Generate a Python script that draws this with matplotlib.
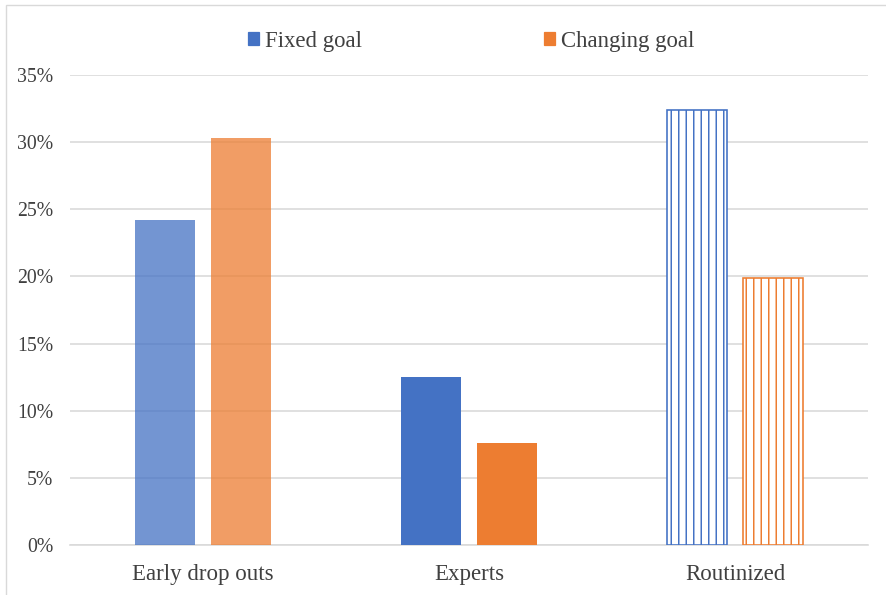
import matplotlib
matplotlib.use("Agg")
import matplotlib.pyplot as plt
from matplotlib.patches import Rectangle, Patch
import numpy as np

categories = ["Early drop outs", "Experts", "Routinized"]
fixed_goal = [0.242, 0.125, 0.324]
changing_goal = [0.303, 0.076, 0.199]
series_names = ["Fixed goal", "Changing goal"]
yticks = [0, 0.05, 0.10, 0.15, 0.20, 0.25, 0.30, 0.35]
ytick_labels = ["0%", "5%", "10%", "15%", "20%", "25%", "30%", "35%"]

BLUE = "#4472C4"
ORANGE = "#ED7D31"
plt.rcParams["font.family"] = ["Liberation Serif", "DejaVu Serif"]
plt.rcParams["hatch.linewidth"] = 1.2

DPI = 90
W, H = 886, 595
fig = plt.figure(figsize=(W / DPI, H / DPI), dpi=DPI)
ax = fig.add_axes([70 / W, 1 - 545 / H, (868 - 70) / W, (545 - 75) / H])

# frame around chart area
fig.patches.append(Rectangle((6 / W, -0.1), 1.1, 1 - 5 / H + 0.1, transform=fig.transFigure,
                             fill=False, edgecolor="#D9D9D9", linewidth=1.1, zorder=0))

x = np.arange(len(categories))
bw = 60 / 266
off = 37.75 / 266

styles = [
    dict(alpha=0.75, hatch=None, fill=True),
    dict(alpha=1.0, hatch=None, fill=True),
    dict(alpha=1.0, hatch="||", fill=False),
]
for i in range(len(categories)):
    for val, col, sgn in ((fixed_goal[i], BLUE, -1), (changing_goal[i], ORANGE, 1)):
        st = styles[i]
        if st["fill"]:
            ax.bar(x[i] + sgn * off, val, width=bw, color=col, alpha=st["alpha"],
                   edgecolor="none", zorder=3)
        else:
            ax.bar(x[i] + sgn * off, val, width=bw, facecolor="white", edgecolor=col,
                   hatch=st["hatch"], linewidth=1.3, zorder=3)

ax.set_xlim(-0.5, 2.5)
ax.set_ylim(0, 0.35)
ax.set_yticks(yticks)
ax.set_yticklabels(ytick_labels)
ax.set_xticks(x)
ax.set_xticklabels(categories)
ax.grid(axis="y", color="#D9D9D9", linewidth=1.3, zorder=0)
for s in ["top", "right", "left"]:
    ax.spines[s].set_visible(False)
ax.spines["bottom"].set_color("#D9D9D9")
ax.spines["bottom"].set_linewidth(1.3)
ax.tick_params(axis="both", length=0, colors="#404040")
ax.tick_params(axis="y", pad=13.2, labelsize=15.8)
ax.tick_params(axis="x", pad=15, labelsize=18.3)
ax.set_axisbelow(True)

handles = [Patch(color=BLUE), Patch(color=ORANGE)]
fig.legend(handles, series_names, loc="center", bbox_to_anchor=(471 / W, 1 - 41 / H),
           ncol=2, frameon=False, fontsize=18.2, handlelength=0.48, handleheight=0.48,
           handletextpad=0.26, columnspacing=8.0, labelcolor="#404040")

fig.savefig("out.png", dpi=DPI, facecolor="white")
